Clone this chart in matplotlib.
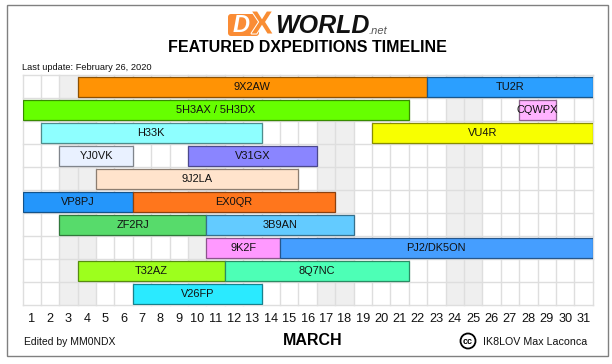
import numpy as np
import matplotlib
matplotlib.use('Agg')
import matplotlib.pyplot as plt
import matplotlib.patheffects as pe
from matplotlib.patches import Rectangle, FancyBboxPatch, Circle

plt.rcParams['font.family'] = ['Liberation Sans', 'DejaVu Sans']

#timeline data, days counted from the left edge of march 1
days = list(range(1, 32))
weekend_days = [3, 4, 10, 11, 17, 18, 24, 25]
calls = ['9X2AW', 'TU2R', '5H3AX / 5H3DX', 'CQWPX', 'H33K', 'VU4R', 'YJ0VK', 'V31GX',
         '9J2LA', 'VP8PJ', 'EX0QR', 'ZF2RJ', '3B9AN', '9K2F', 'PJ2/DK5ON', 'T32AZ',
         '8Q7NC', 'V26FP']
rows = [0, 0, 1, 1, 2, 2, 3, 3, 4, 5, 5, 6, 6, 7, 7, 8, 8, 9]
starts = [3, 22, 0, 27, 1, 19, 2, 9, 4, 0, 6, 2, 10, 10, 14, 3, 11, 6]
ends = [22, 31, 21, 29, 13, 31, 6, 16, 15, 6, 17, 10, 18, 14, 31, 11, 21, 13]
colors = ['#ff9305', '#2b9fff', '#66ff00', '#ffb3ff', '#8effff', '#f8ff00', '#e9f1ff', '#8a85ff',
          '#ffe3cc', '#2496fb', '#ff761c', '#57db6b', '#63cbff', '#ff99ff', '#459eff', '#9dff1d',
          '#4dffb6', '#2aeaff']

W, H = 612, 364
fig = plt.figure(figsize=(W / 100, H / 100), dpi=100, facecolor='white')

#background axes in pixel coordinates for frame, logo and captions
bg = fig.add_axes([0, 0, 1, 1])
bg.set_xlim(0, W)
bg.set_ylim(H, 0)
bg.axis('off')
bg.add_patch(Rectangle((6.5, 4.5), 601, 351, fc='white', ec='#808080', lw=1.0))

#logo
bg.add_patch(FancyBboxPatch((228, 14), 31, 22, boxstyle='round,pad=0,rounding_size=3',
                            fc='#fa8c35', ec='none'))
bg.text(241, 25.5, 'D', color='white', fontsize=17, fontweight='bold', style='italic',
        ha='center', va='center')
bg.text(262, 25.5, 'X', color='#f98d33', fontsize=23, fontweight='bold', ha='center', va='center',
        path_effects=[pe.withStroke(linewidth=1.5, foreground='white')])
bg.text(275, 26, 'WORLD', color='#111111', fontsize=18, fontweight='bold', style='italic',
        ha='left', va='center')
bg.text(369, 31, '.net', color='#555555', fontsize=8, style='italic', ha='left', va='center')

bg.text(307, 47.5, 'FEATURED DXPEDITIONS TIMELINE', fontsize=11.5, fontweight='bold',
        ha='center', va='center', color='black')
bg.text(22.5, 68, 'Last update: February 26, 2020', fontsize=6.7, ha='left', va='center',
        color='#111111')
bg.text(24, 342, 'Edited by MM0NDX', fontsize=7.5, ha='left', va='center', color='#111111')
bg.text(312.5, 340.5, 'MARCH', fontsize=11.5, fontweight='bold', ha='center', va='center',
        color='black')
bg.add_patch(Circle((468, 341), 7.5, fc='white', ec='black', lw=1.3))
bg.text(468, 341, 'cc', fontsize=6.5, fontweight='bold', ha='center', va='center')
bg.text(483, 342, 'IK8LOV Max Laconca', fontsize=7.7, ha='left', va='center', color='#111111')

#chart axes
ax = fig.add_axes([22.5 / W, 1 - 305.3 / H, 570.2 / W, 230 / H])
ax.patch.set_alpha(0)
ax.set_xlim(0, 31)
ax.set_ylim(10, 0)
for d in weekend_days:
    ax.axvspan(d - 1, d, color='#efefef', lw=0, zorder=1)
ax.set_xticks(np.arange(0, 32), minor=True)
ax.set_yticks(np.arange(0, 11), minor=True)
ax.grid(which='minor', color='#dedede', lw=1.0, clip_on=False)
ax.set_axisbelow('line')
ax.set_xticks(np.array(days) - 0.5)
ax.set_xticklabels(days, fontsize=9.2, color='#111111')
ax.set_yticks([])
ax.tick_params(which='both', length=0)
ax.tick_params(axis='x', pad=5.5)
for s in ax.spines.values():
    s.set_visible(False)

for c, r, s, e, col in zip(calls, rows, starts, ends, colors):
    edge = tuple(np.array(matplotlib.colors.to_rgb(col)) * 0.55)
    ax.barh(r + 0.51, e - s, left=s, height=0.84, color=col, edgecolor=edge, lw=0.9, zorder=3)
    ax.text((s + e) / 2, r + 0.49, c, fontsize=7.9, ha='center', va='center',
            color='#111111', zorder=4)

fig.savefig('out.png', dpi=100, facecolor='white')
